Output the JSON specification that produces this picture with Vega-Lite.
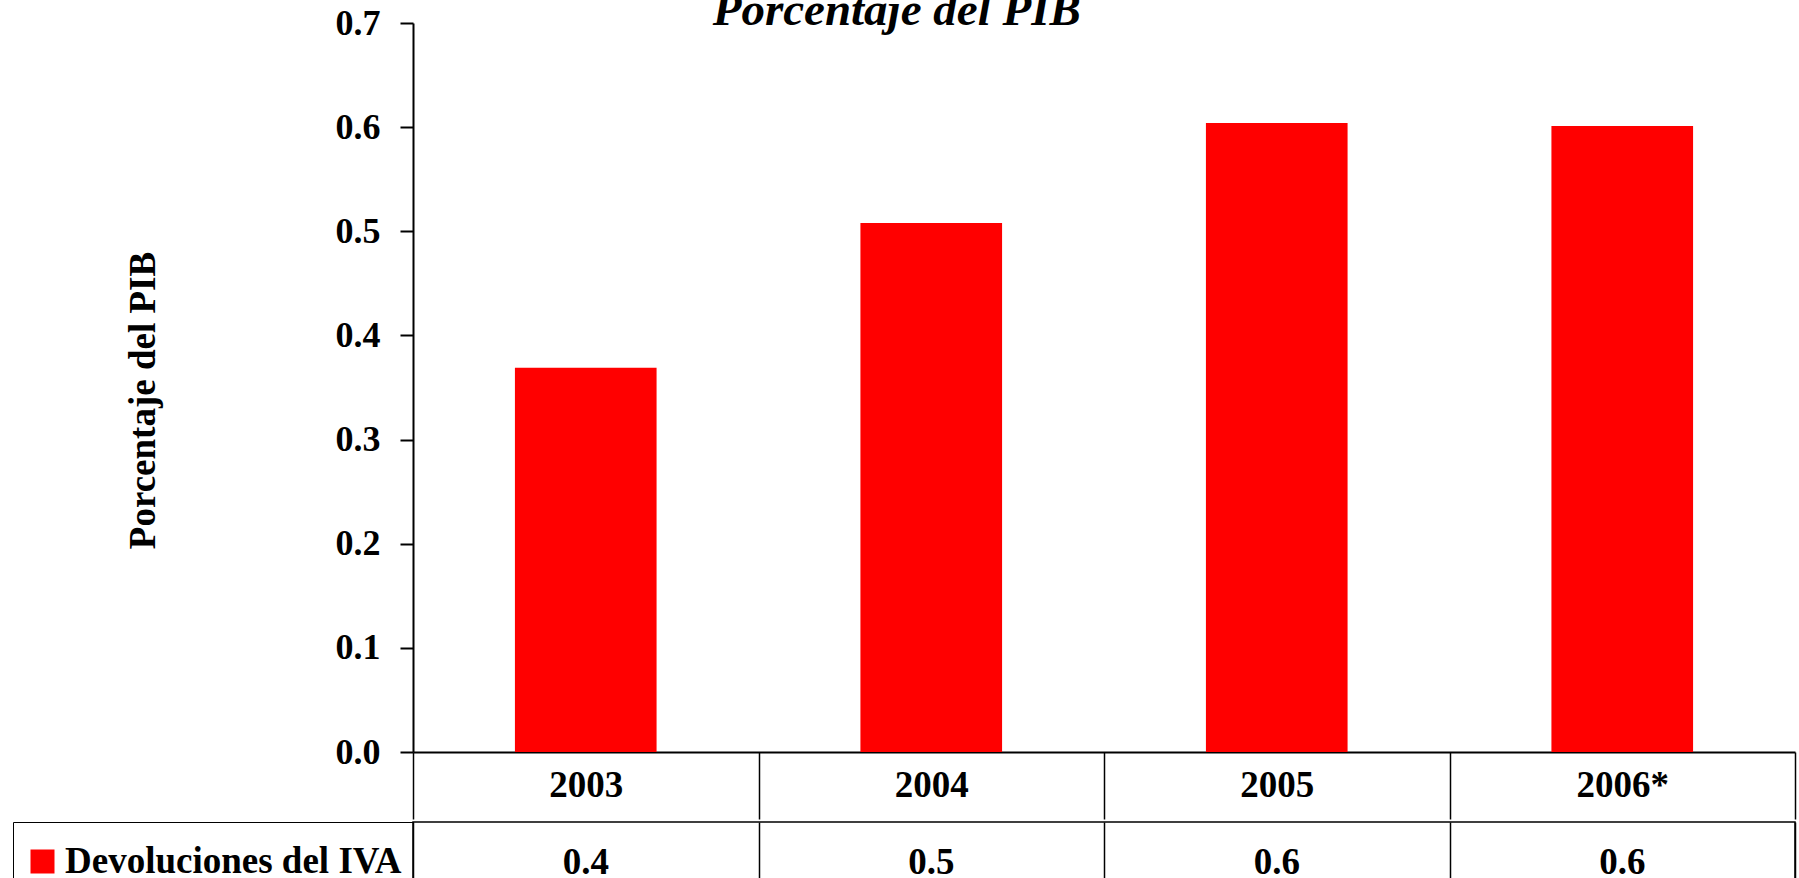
{
  "$schema": "https://vega.github.io/schema/vega-lite/v6.json",
  "padding": {"left": 11, "top": -13, "right": 2, "bottom": 0},
  "background": "white",
  "config": {"font": "Liberation Serif", "view": {"stroke": null}},
  "title": {"text": "Porcentaje del PIB", "font": "Liberation Serif", "fontSize": 47, "fontWeight": "bold", "fontStyle": "italic", "anchor": "middle", "frame": "bounds", "baseline": "alphabetic", "offset": -67, "dx": -7, "color": "black"},
  "data": {"values": [
    {"year": "2003", "value": 0.369, "serie": "Devoluciones del IVA"},
    {"year": "2004", "value": 0.508, "serie": "Devoluciones del IVA"},
    {"year": "2005", "value": 0.604, "serie": "Devoluciones del IVA"},
    {"year": "2006*", "value": 0.601, "serie": "Devoluciones del IVA"}
  ]},
  "spacing": 0,
  "vconcat": [
    {
      "width": 1382,
      "height": 729,
      "mark": {"type": "bar", "color": "#FF0000", "width": {"band": 0.41}},
      "encoding": {
        "x": {"field": "year", "type": "nominal", "sort": null,
          "scale": {"type": "band", "paddingInner": 0, "paddingOuter": 0},
          "axis": {"title": null, "labelAngle": 0, "labelFont": "Liberation Serif", "labelFontSize": 37, "labelFontWeight": "bold", "labelColor": "black", "domainColor": "black", "domainWidth": 2, "tickBand": "extent", "tickSize": 67, "tickColor": "black", "tickWidth": 1.5, "labelPadding": -34, "labelBaseline": "middle", "minExtent": 67, "maxExtent": 67}},
        "y": {"field": "value", "type": "quantitative",
          "scale": {"domain": [0, 0.7], "nice": false},
          "axis": {"values": [0, 0.1, 0.2, 0.3, 0.4, 0.5, 0.6, 0.7], "format": ".1f", "grid": false, "title": "Porcentaje del PIB", "titleFont": "Liberation Serif", "titleFontSize": 37, "titleFontWeight": "bold", "titlePadding": 173, "titleY": 377, "titleColor": "black", "labelFont": "Liberation Serif", "labelFontSize": 36, "labelFontWeight": "bold", "labelPadding": 20, "labelColor": "black", "tickSize": 13, "tickColor": "black", "tickWidth": 2, "domainColor": "black", "domainWidth": 2}}
      }
    },
    {
      "width": 1382,
      "height": 82,
      "view": {"stroke": "black", "strokeWidth": 1.5},
      "encoding": {
        "x": {"field": "year", "type": "nominal", "sort": null,
          "scale": {"type": "band", "paddingInner": 0, "paddingOuter": 0},
          "axis": {"orient": "top", "labels": false, "ticks": false, "domain": false, "grid": true, "tickBand": "extent", "gridColor": "black", "gridWidth": 1.5, "gridOpacity": 1, "title": null}}
      },
      "layer": [
        {
          "mark": {"type": "text", "font": "Liberation Serif", "fontSize": 37, "fontWeight": "bold", "color": "black"},
          "encoding": {
            "text": {"field": "value", "type": "quantitative", "format": ".1f"}
          }
        },
        {
          "mark": {"type": "square", "size": 0, "filled": true},
          "encoding": {
            "color": {"field": "serie", "type": "nominal", "scale": {"range": ["#FF0000"]},
              "legend": {"orient": "left", "title": " ", "titleFontSize": 2, "titlePadding": 8, "offset": 0, "padding": 11, "strokeColor": "black", "labelFont": "Liberation Serif", "labelFontSize": 37, "labelFontWeight": "bold", "labelColor": "black", "labelOffset": 4, "labelLimit": 0, "symbolType": "square", "symbolSize": 576, "symbolStrokeWidth": 0, "symbolOpacity": 1}}
          }
        }
      ]
    }
  ],
  "resolve": {"scale": {"color": "independent"}}
}
